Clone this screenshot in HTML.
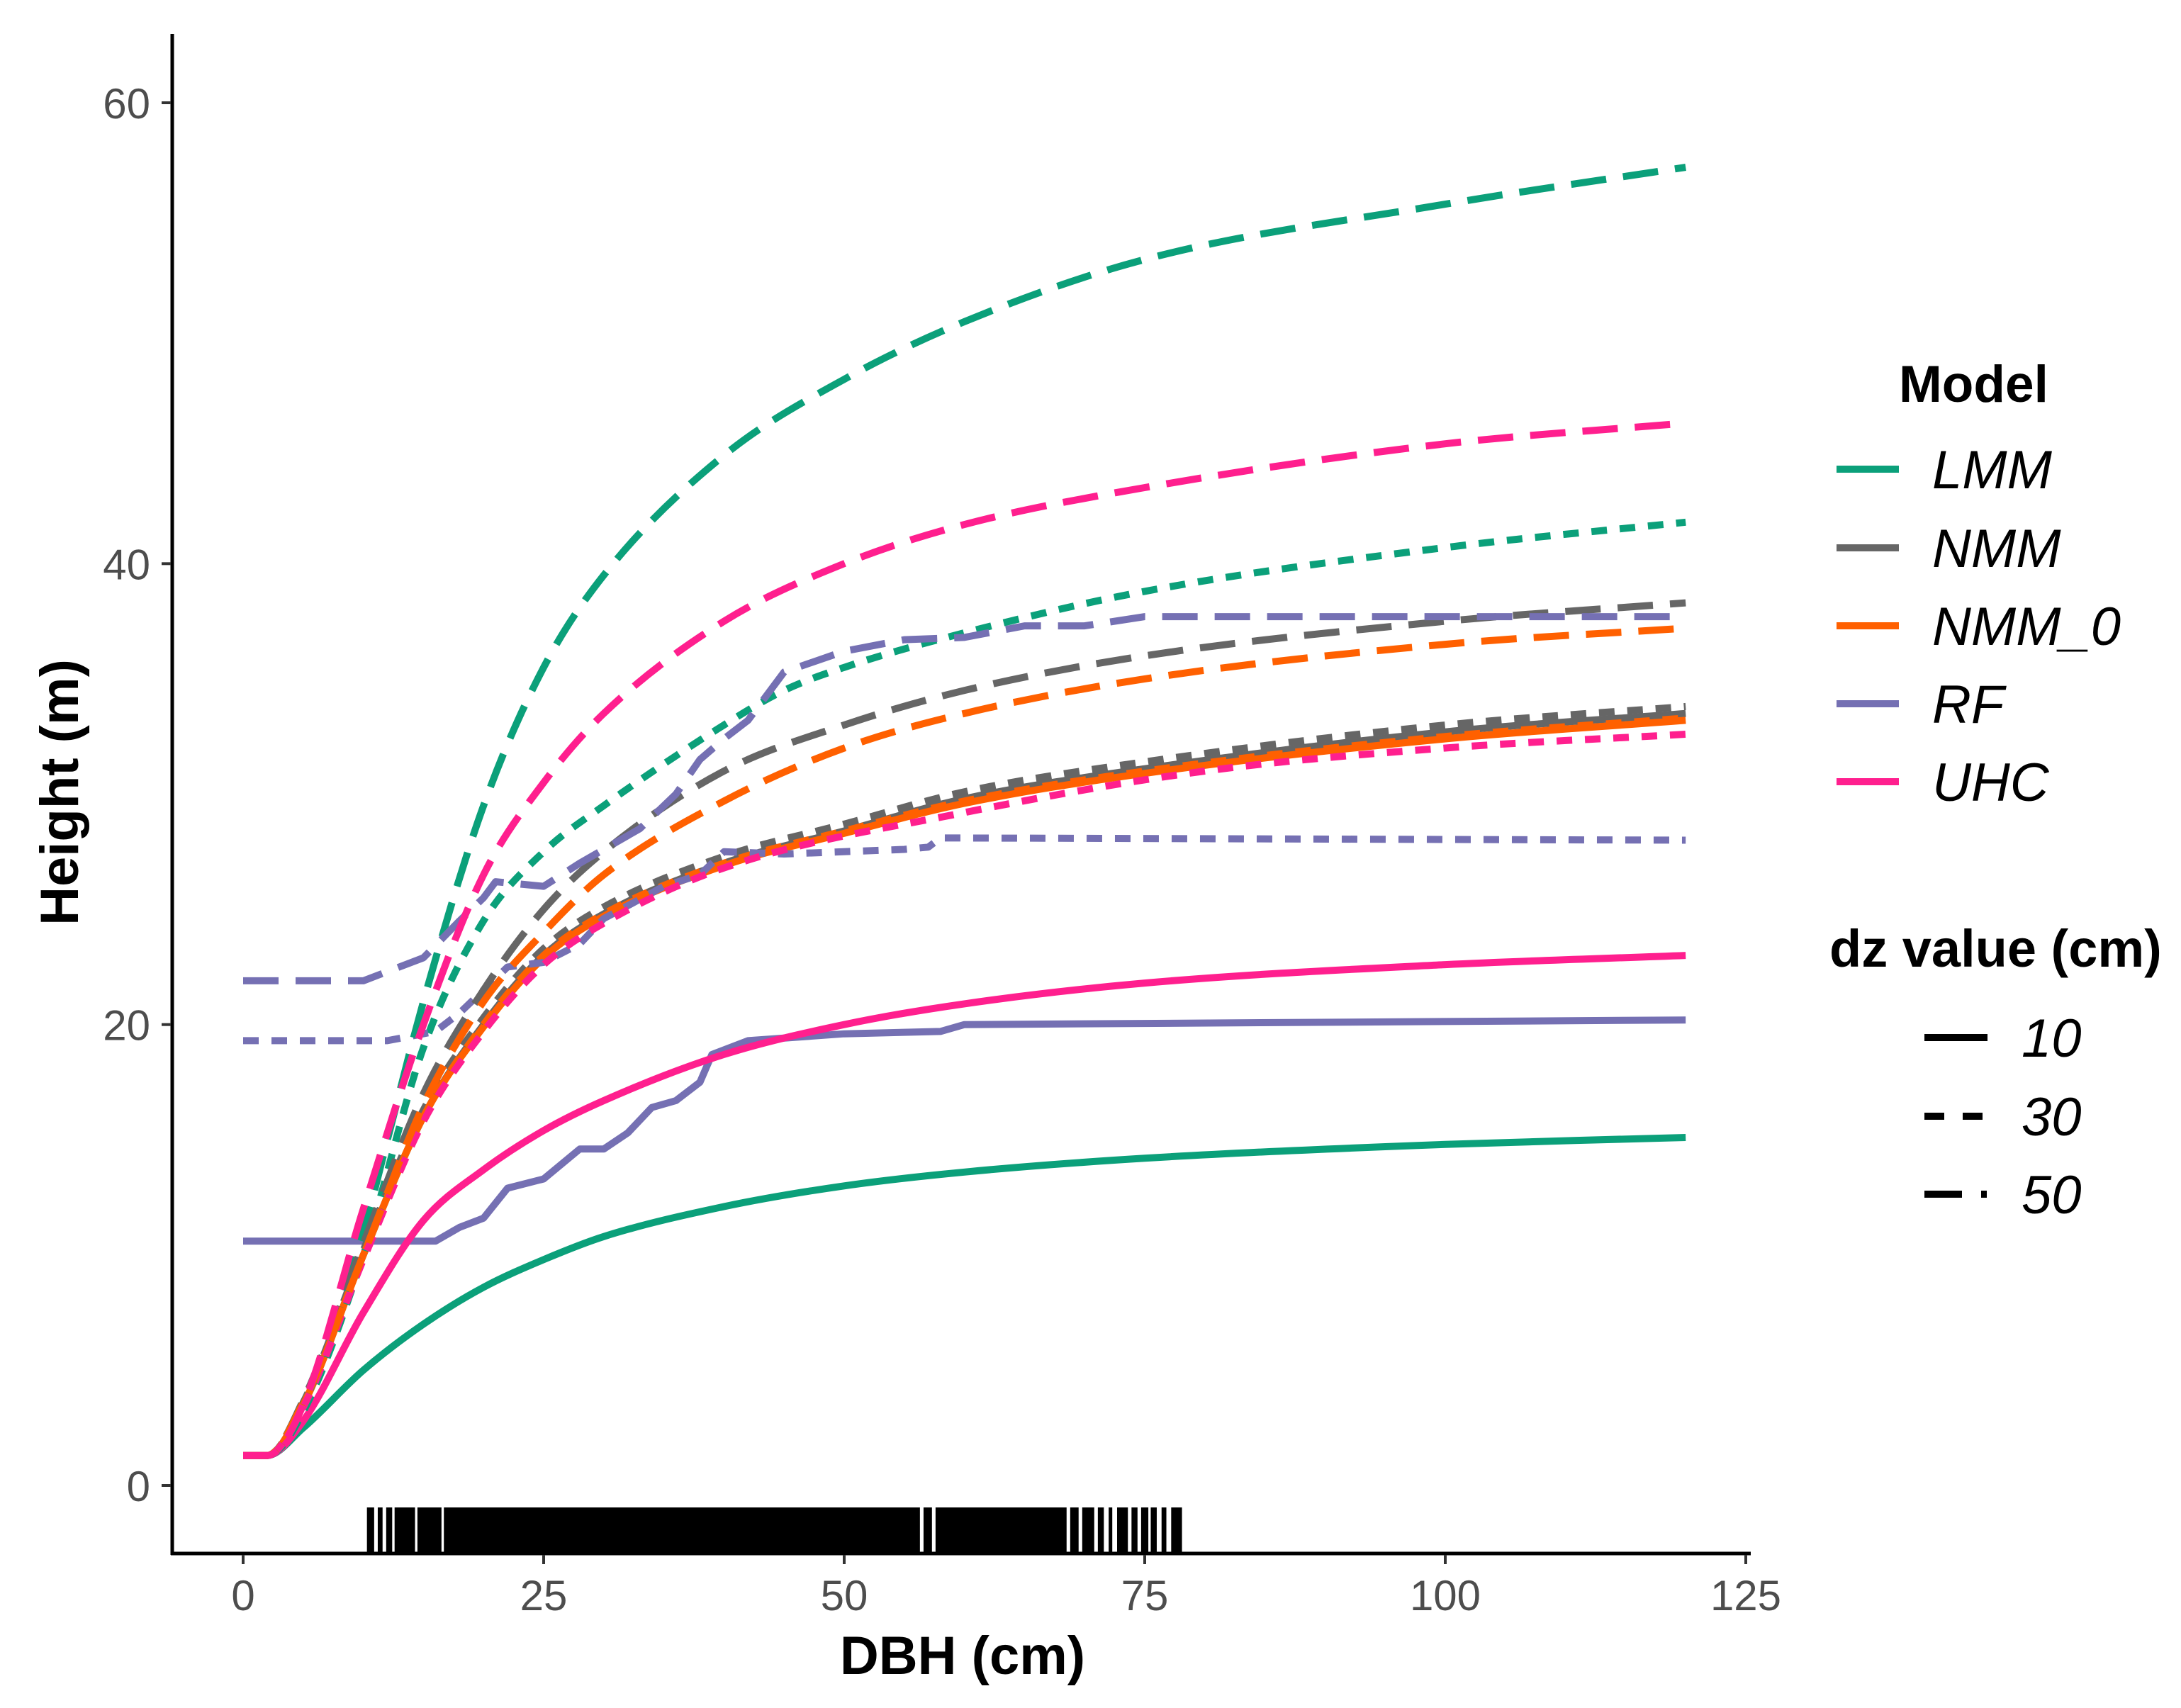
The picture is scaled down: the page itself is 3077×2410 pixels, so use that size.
<!DOCTYPE html>
<html><head><meta charset="utf-8"><style>
html,body{margin:0;padding:0;background:#fff;}
svg text{font-family:"Liberation Sans",sans-serif;}
</style></head><body>
<svg id="chart" width="3077" height="2405" viewBox="0 0 3077 2405" xmlns="http://www.w3.org/2000/svg">
<g id="rug"></g>
<g id="series"></g>
<g id="axes"></g>
<text x="1358" y="2362" font-size="76" font-weight="bold" text-anchor="middle">DBH (cm)</text>
<text transform="translate(110,1118) rotate(-90)" font-size="76" font-weight="bold" text-anchor="middle">Height (m)</text>
<g id="legend"></g>
</svg>
<script>
const NS="http://www.w3.org/2000/svg";
const xTicks=[0,25,50,75,100,125];
const yTicks=[0,20,40,60];
const models=["LMM","NMM","NMM_0","RF","UHC"];
const dzLevels=["10","30","50"];
const colors={LMM:"#0BA07A",NMM:"#666666",NMM_0:"#FF6000",RF:"#7570B3",UHC:"#FF1F8E"};
const dashes={"10":"none","30":"22 18","50":"50 24"};

const LMM_10_x=[0,2,5,10,15,20,25,30,40,50,60,75,100,120];
const LMM_10_y=[1.3,1.3,2.5,5.0,7.0,8.6,9.8,10.8,12.1,13.0,13.6,14.2,14.8,15.1];
const LMM_30_x=[0,2,5,10,15,20,25,30,40,45,50,60,75,100,120];
const LMM_30_y=[1.3,1.3,3.2,10,19,24.5,27.5,29.5,33,34.5,35.5,37,38.8,40.7,41.8];
const LMM_50_x=[0,2,5,10,12,15,20,25,30,40,50,60,75,100,120];
const LMM_50_y=[1.3,1.3,3.5,11,15,21,29.5,35.5,39.5,44.7,48,50.5,53.2,55.6,57.2];
const NMM_10_x=[0,2,5,10,15,20,25,30,40,50,60,75,100,120];
const NMM_10_y=[1.3,1.3,3.5,10,16,20,23,24.8,27,28.4,29.8,31.1,32.7,33.5];
const NMM_30_x=[0,2,5,10,15,20,25,30,40,50,60,75,100,120];
const NMM_30_y=[1.3,1.3,3.6,10.2,16.3,20.3,23.3,25.1,27.3,28.7,30.1,31.4,33,33.8];
const NMM_50_x=[0,2,5,10,15,20,25,30,40,50,60,75,100,120];
const NMM_50_y=[1.3,1.3,3.7,10.5,17,21.5,25,27.5,31,33,34.5,36,37.5,38.3];
const NMM_0_10_x=[0,2,5,10,15,20,25,30,40,50,60,75,100,120];
const NMM_0_10_y=[1.3,1.3,3.5,10,16,19.9,22.9,24.7,26.9,28.3,29.6,30.9,32.4,33.2];
const NMM_0_30_x=[0,2,5,10,15,20,25,30,40,50,60,75,100,120];
const NMM_0_30_y=[1.3,1.3,3.5,10,16,20,23,24.8,27,28.4,29.7,31,32.5,33.3];
const NMM_0_50_x=[0,2,5,10,15,20,25,30,40,50,60,75,100,120];
const NMM_0_50_y=[1.3,1.3,3.6,10,16.5,21,24,26.5,29.7,32,33.5,35,36.5,37.2];
const RF_10_x=[0,16,18,20,22,25,28,30,32,34,36,38,39,42,50,58,60,120];
const RF_10_y=[10.6,10.6,11.2,11.6,12.9,13.3,14.6,14.6,15.3,16.4,16.7,17.5,18.7,19.3,19.6,19.7,20.0,20.2];
const RF_30_x=[0,12,16,18,20,22,25,28,30,35,38,40,45,55,57,58,120];
const RF_30_y=[19.3,19.3,19.7,20.5,21.5,22.5,22.7,23.5,24.6,26,26.5,27.5,27.4,27.6,27.7,28.1,28.0];
const RF_50_x=[0,10,12,15,18,20,21,25,28,33,36,38,40,42,45,50,55,60,65,70,75,120];
const RF_50_y=[21.9,21.9,22.3,22.9,24.5,25.5,26.2,26.0,27,28.5,30,31.5,32.4,33.2,35.3,36.2,36.7,36.8,37.3,37.3,37.7,37.7];
const UHC_10_x=[0,2,5,10,15,20,25,30,40,50,60,75,100,120];
const UHC_10_y=[1.3,1.3,2.8,7.5,11.5,13.7,15.4,16.7,18.7,20,20.9,21.8,22.6,23.0];
const UHC_30_x=[0,2,5,10,15,20,25,30,40,60,80,100,120];
const UHC_30_y=[1.3,1.3,3.4,9.8,15.8,19.7,22.6,24.4,26.8,29.2,31,32,32.6];
const UHC_50_x=[0,2,5,10,15,20,25,30,40,50,60,75,100,120];
const UHC_50_y=[1.3,1.3,3.5,12,20,26.5,30.5,33.5,37.5,40,41.7,43.3,45.2,46.1];
const rugStart=[10.3,11.2,11.9,12.6,14.5,16.7,56.6,57.6,68.8,69.8,71.1,72.0,72.7,73.9,74.7,75.5,76.4,77.2];
const rugEnd=[10.9,11.6,12.4,14.3,16.5,56.3,57.3,68.5,69.5,70.8,71.6,72.3,73.6,74.4,75.3,76.0,76.8,78.1];

const seriesData={
 LMM:{"10":[LMM_10_x,LMM_10_y],"30":[LMM_30_x,LMM_30_y],"50":[LMM_50_x,LMM_50_y]},
 NMM:{"10":[NMM_10_x,NMM_10_y],"30":[NMM_30_x,NMM_30_y],"50":[NMM_50_x,NMM_50_y]},
 NMM_0:{"10":[NMM_0_10_x,NMM_0_10_y],"30":[NMM_0_30_x,NMM_0_30_y],"50":[NMM_0_50_x,NMM_0_50_y]},
 RF:{"10":[RF_10_x,RF_10_y],"30":[RF_30_x,RF_30_y],"50":[RF_50_x,RF_50_y]},
 UHC:{"10":[UHC_10_x,UHC_10_y],"30":[UHC_30_x,UHC_30_y],"50":[UHC_50_x,UHC_50_y]}
};

const X0=343,X1=2463,Y0=2096,Y60=145;
function sx(v){return X0+(X1-X0)*v/125;}
function sy(v){return Y0+(Y60-Y0)*v/60;}
function mk(tag,attrs,parent){const e=document.createElementNS(NS,tag);for(const k in attrs)e.setAttribute(k,attrs[k]);parent.appendChild(e);return e;}

// monotone cubic path (Fritsch-Carlson)
function smoothPath(px,py){
 const n=px.length;
 if(n<3)return px.map((x,i)=>(i?'L':'M')+x+','+py[i]).join(' ');
 const d=[],m=new Array(n);
 for(let i=0;i<n-1;i++)d.push((py[i+1]-py[i])/(px[i+1]-px[i]));
 m[0]=d[0];m[n-1]=d[n-2];
 for(let i=1;i<n-1;i++){m[i]=(d[i-1]*d[i]<=0)?0:(d[i-1]+d[i])/2;}
 for(let i=0;i<n-1;i++){
  if(d[i]===0){m[i]=0;m[i+1]=0;continue;}
  const a=m[i]/d[i],b=m[i+1]/d[i],s=a*a+b*b;
  if(s>9){const t=3/Math.sqrt(s);m[i]=t*a*d[i];m[i+1]=t*b*d[i];}
 }
 let p='M'+px[0].toFixed(1)+','+py[0].toFixed(1);
 for(let i=0;i<n-1;i++){
  const h=(px[i+1]-px[i])/3;
  p+=' C'+(px[i]+h).toFixed(1)+','+(py[i]+m[i]*h).toFixed(1)+' '+(px[i+1]-h).toFixed(1)+','+(py[i+1]-m[i+1]*h).toFixed(1)+' '+px[i+1].toFixed(1)+','+py[i+1].toFixed(1);
 }
 return p;
}

// rug
const rug=document.getElementById('rug');
for(let i=0;i<rugStart.length;i++){
 const r=mk('rect',{x:sx(rugStart[i]),y:2127,width:Math.max(2,sx(rugEnd[i])-sx(rugStart[i])),height:63,fill:'#000'},rug);
 
 
}

// series
const sg=document.getElementById('series');
dzLevels.forEach(dz=>{
 models.forEach(m=>{
  const [xs,ys]=seriesData[m][dz];
  const px=xs.map(sx),py=ys.map(sy);
  const d=(m==='RF')?px.map((x,i)=>(i?'L':'M')+x.toFixed(1)+','+py[i].toFixed(1)).join(' '):smoothPath(px,py);
  const p=mk('path',{d:d,fill:'none',stroke:colors[m],'stroke-width':10,'stroke-linejoin':'round','stroke-dasharray':dashes[dz]},sg);
  
  
 });
});

// axes
const ax=document.getElementById('axes');
const yl=mk('line',{x1:243,y1:48,x2:243,y2:2194,stroke:'#000','stroke-width':5},ax);


const xl=mk('line',{x1:241,y1:2192,x2:2470,y2:2192,stroke:'#000','stroke-width':5},ax);


xTicks.forEach(t=>{
 mk('line',{x1:sx(t),y1:2194,x2:sx(t),y2:2207,stroke:'#333','stroke-width':4},ax);
 const tx=mk('text',{x:sx(t),y:2272,'font-size':60,fill:'#4d4d4d','text-anchor':'middle'},ax);
 tx.textContent=t;
 
 
});
yTicks.forEach(t=>{
 mk('line',{x1:228,y1:sy(t),x2:241,y2:sy(t),stroke:'#333','stroke-width':4},ax);
 const tx=mk('text',{x:212,y:sy(t)+22,'font-size':60,fill:'#4d4d4d','text-anchor':'end'},ax);
 tx.textContent=t;
 
 
});

// legend
const lg=document.getElementById('legend');
const t1=mk('text',{x:2679,y:567,'font-size':73,'font-weight':'bold'},lg);
t1.textContent='Model';


const rowsY=[662,773,883,993,1103];
models.forEach((m,i)=>{
 const l=mk('line',{x1:2591,y1:rowsY[i],x2:2679,y2:rowsY[i],stroke:colors[m],'stroke-width':10},lg);
 
 
 const t=mk('text',{x:2726,y:rowsY[i]+27,'font-size':76,'font-style':'italic'},lg);
 t.textContent=m;
 
 
});
const t2=mk('text',{x:2581,y:1364,'font-size':74,'font-weight':'bold'},lg);
t2.textContent='dz value (cm)';


const dzY=[1464,1575,1685];
const legDash={"10":"none","30":"28 26","50":"53 27 8 30"};
dzLevels.forEach((dz,i)=>{
 const l=mk('line',{x1:2715,y1:dzY[i],x2:2804,y2:dzY[i],stroke:'#000','stroke-width':10,'stroke-dasharray':legDash[dz]},lg);
 
 
 const t=mk('text',{x:2852,y:dzY[i]+27,'font-size':76,'font-style':'italic'},lg);
 t.textContent=dz;
 
 
});
</script>
</body></html>
